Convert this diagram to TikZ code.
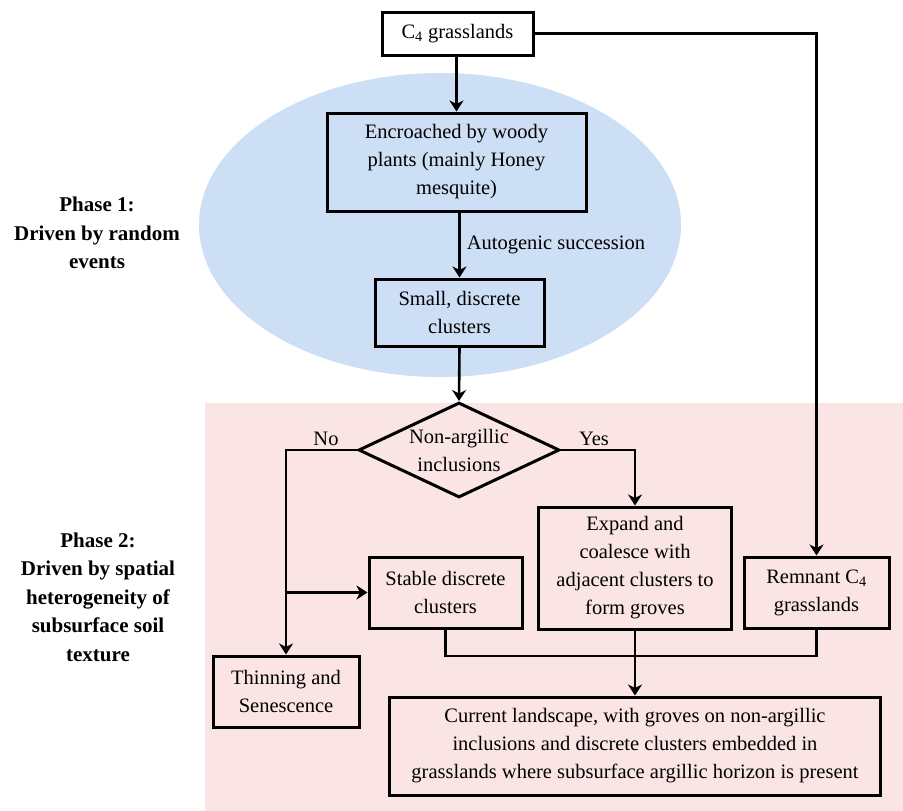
\documentclass[tikz,border=0pt]{standalone}
\usepackage{fontspec}
\setmainfont{Liberation Serif}
\usetikzlibrary{arrows.meta,shapes.geometric}
\definecolor{phaseblue}{RGB}{204,223,245}
\definecolor{phasepink}{RGB}{251,228,228}
\tikzset{
  box/.style={draw, line width=3pt, align=center, inner sep=0pt,
    font=\fontsize{20.5}{28}\selectfont},
  conn/.style={line width=2.6pt},
  arr/.style={conn, -{Stealth[length=11pt,width=14pt,inset=3.5pt]}},
  lbl/.style={font=\fontsize{20.5}{28}\selectfont, inner sep=0pt},
  phase/.style={align=center, font=\fontsize{21}{28.5}\selectfont\bfseries}
}
\begin{document}
\begin{tikzpicture}[x=1pt,y=-1pt]
\useasboundingbox (0,0) rectangle (903,811);
% backgrounds
\fill[phasepink] (205,403) rectangle (903,811);
\fill[phaseblue] (440,225) ellipse [x radius=241, y radius=152];

% phase labels
\node[phase] (p1) at (97,233) {Phase 1:\\Driven by random\\events};
\node[phase] (p2) at (98,597) {Phase 2:\\Driven by spatial\\heterogeneity of\\subsurface soil\\texture};

% nodes
\node[box, fill=white, minimum width=151pt, minimum height=43pt] (c4) at (457.5,33.5) {C\textsubscript{4} grasslands};
\node[box, minimum width=259pt, minimum height=98pt] (enc) at (456.5,162) {Encroached by woody\\plants (mainly Honey\\mesquite)};
\node[box, minimum width=169pt, minimum height=67pt] (small) at (459.5,312.5) {Small, discrete\\clusters};
\node[draw, diamond, line width=3pt, minimum width=201pt, minimum height=95pt, inner sep=0pt,
  label={[lbl, align=center]center:Non-argillic\\inclusions}] (dia) at (459,450) {};
\node[box, minimum width=146pt, minimum height=71pt] (thin) at (286,691.5) {Thinning and\\Senescence};
\node[box, minimum width=153pt, minimum height=71pt] (stable) at (445.5,592.5) {Stable discrete\\clusters};
\node[box, minimum width=193pt, minimum height=122pt] (expand) at (635,568) {Expand and\\coalesce with\\adjacent clusters to\\form groves};
\node[box, minimum width=145pt, minimum height=71pt] (remnant) at (816.5,592.5) {Remnant C\textsubscript{4}\\grasslands};
\node[box, minimum width=491pt, minimum height=98pt] (cur) at (635,746) {Current landscape, with groves on non-argillic\\inclusions and discrete clusters embedded in\\grasslands where subsurface argillic horizon is present};

% helper coordinates
\coordinate (nocorner) at (286,450);
\coordinate (nobranch) at (286,592.5);
\coordinate (yescorner) at (635,450);
\coordinate (c4corner) at (816.5,33.5);
\coordinate (joinL) at (445.5,656);
\coordinate (joinR) at (816.5,656);

% connectors
\draw[arr] (c4.south -| enc.north) -- (enc.north);
\draw[arr] (enc.south -| small.north) -- node[lbl, right=6pt, pos=0.5] (auto) {Autogenic succession} (small.north);
\draw[arr] (small.south) -- (dia.north);
\draw[arr] (dia.west) -- (nocorner) -- (thin.north);
\draw[arr] (nobranch) -- (stable.west);
\draw[arr] (dia.east) -- (yescorner) -- (expand.north);
\draw[arr] (c4.east) -- (c4corner) -- (remnant.north);
\draw[conn] (stable.south) -- (joinL) -- (joinR) -- (remnant.south);
\draw[arr] (expand.south) -- (cur.north);

% branch labels
\node[lbl] (nolbl) at (326,439) {No};
\node[lbl] (yeslbl) at (594,439) {Yes};
\end{tikzpicture}
\end{document}
